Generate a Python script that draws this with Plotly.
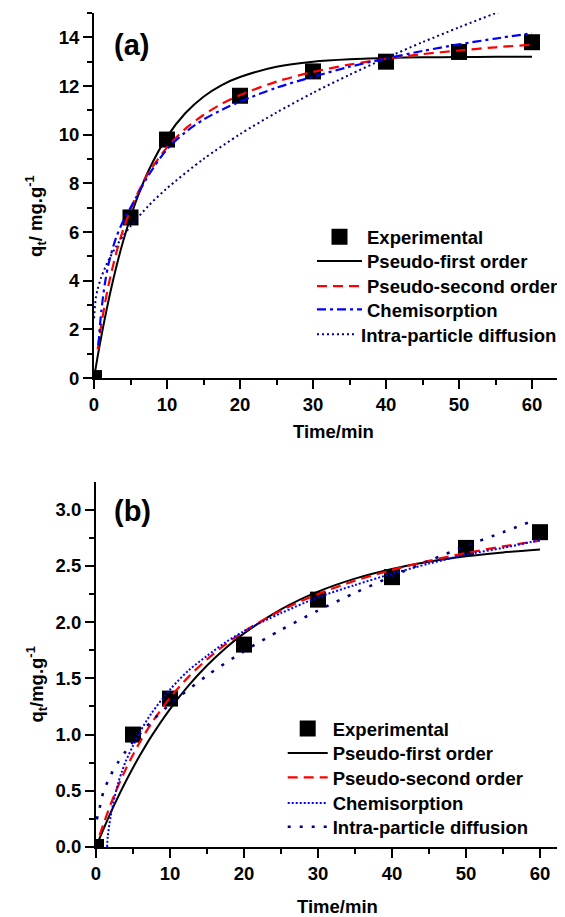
import plotly.graph_objects as go

# ---------------- Panel (a) data ----------------
ta_exp = [0, 5, 10, 20, 30, 40, 50, 60]
qa_exp = [0, 6.6, 9.8, 11.6, 12.6, 13.0, 13.4, 13.8]

ta_pfo = [0, 0.5, 1, 1.5, 2, 3, 4, 5, 6, 7.5, 10, 12.5, 15, 17.5, 20, 25, 30, 35, 40, 45, 50, 55, 60]
qa_pfo = [0, 0.89, 1.71, 2.48, 3.20, 4.50, 5.63, 6.61, 7.47, 8.54, 9.91, 10.88, 11.56, 12.04, 12.37,
          12.79, 13.0, 13.10, 13.15, 13.18, 13.19, 13.2, 13.2]

ta_pso = [0.5, 1, 1.5, 2, 3, 4, 5, 6, 7.5, 10, 12.5, 15, 17.5, 20, 25, 30, 35, 40, 45, 50, 55, 60]
qa_pso = [1.18, 2.19, 3.07, 3.83, 5.09, 6.10, 6.92, 7.61, 8.44, 9.48, 10.24, 10.81, 11.27, 11.63,
          12.18, 12.58, 12.88, 13.12, 13.31, 13.46, 13.59, 13.70]

ta_che = [0.6, 1, 1.5, 2, 3, 4, 5, 6, 7.5, 10, 12.5, 15, 17.5, 20, 25, 30, 35, 40, 45, 50, 55, 60]
qa_che = [1.35, 2.75, 3.9, 4.7, 5.75, 6.45, 7.0, 7.55, 8.35, 9.4, 10.1, 10.62, 11.02, 11.36,
          11.93, 12.38, 12.79, 13.13, 13.44, 13.71, 13.95, 14.17]

ta_ipd = [0, 0.25, 0.5, 1, 2, 3, 4, 5, 7.5, 10, 15, 20, 25, 30, 35, 40, 45, 50, 55, 60]
qa_ipd = [2.46, 3.3, 3.65, 4.15, 4.85, 5.39, 5.84, 6.24, 7.09, 7.80, 9.0, 10.02, 10.91, 11.72,
          12.46, 13.15, 13.80, 14.41, 14.99, 15.55]

# ---------------- Panel (b) data ----------------
tb_exp = [0, 5, 10, 20, 30, 40, 50, 60]
qb_exp = [0, 1.0, 1.32, 1.8, 2.2, 2.4, 2.66, 2.8]

tb_pfo = [0.2, 1, 2, 3, 4, 5, 6, 7.5, 10, 12.5, 15, 17.5, 20, 25, 30, 35, 40, 45, 50, 55, 60]
qb_pfo = [0.032, 0.158, 0.308, 0.448, 0.580, 0.705, 0.822, 0.986, 1.227, 1.435, 1.614, 1.768,
          1.90, 2.113, 2.271, 2.387, 2.473, 2.537, 2.585, 2.620, 2.646]

tb_pso = [0.5, 1, 2, 3, 4, 5, 6, 7.5, 10, 12.5, 15, 17.5, 20, 25, 30, 35, 40, 45, 50, 55, 60]
qb_pso = [0.105, 0.203, 0.383, 0.545, 0.69, 0.821, 0.941, 1.101, 1.327, 1.513, 1.669, 1.802,
          1.917, 2.104, 2.25, 2.368, 2.464, 2.545, 2.614, 2.673, 2.724]

tb_che = [1.5, 1.6, 2, 2.5, 3, 3.5, 4, 5, 6, 7.5, 10, 12.5, 15, 17.5, 20, 25, 30, 35, 40, 45, 50, 55, 60]
qb_che = [0, 0.1, 0.28, 0.44, 0.57, 0.67, 0.76, 0.9, 1.03, 1.19, 1.40, 1.57, 1.70, 1.82, 1.92,
          2.08, 2.22, 2.33, 2.43, 2.52, 2.60, 2.66, 2.73]

tb_ipd = [0.1, 0.5, 1, 2, 3, 4, 5, 7.5, 10, 15, 20, 25, 30, 35, 40, 45, 50, 55, 59]
qb_ipd = [0.245, 0.35, 0.49, 0.64, 0.755, 0.85, 0.936, 1.117, 1.269, 1.525, 1.741, 1.931, 2.103,
          2.26, 2.408, 2.546, 2.677, 2.80, 2.90]

legend_names = ["Experimental", "Pseudo-first order", "Pseudo-second order",
                "Chemisorption", "Intra-particle diffusion"]

# ---------------- layout geometry ----------------
# the page body has an 8px margin, so window pixel coordinates are shifted by OFF
OFF = 8
WIN_W, WIN_H = 565, 917
W, H = WIN_W - OFF, WIN_H - OFF
ML, MR, MT = 94 - OFF, 0, 13 - OFF
BOTTOM_WIN = 847.5
MB = WIN_H - BOTTOM_WIN
PW = W - ML - MR
PH = H - MT - MB


def px(xw):
    return (xw - OFF - ML) / PW


def py(yw):
    return (BOTTOM_WIN - yw) / PH


FONT = dict(family="Arial, Liberation Sans, sans-serif", size=18.5, color="black", weight="bold")

fig = go.Figure()


def add_panel(xa, ya, leg_ids, t_exp, q_exp, curves):
    fig.add_trace(go.Scatter(x=t_exp, y=q_exp, mode="markers", name=legend_names[0],
                             marker=dict(symbol="square", size=16, color="black", line=dict(width=0)),
                             xaxis=xa, yaxis=ya, legend=leg_ids[0]))
    for name, lid, (t, q, color, dash, width) in zip(legend_names[1:], leg_ids[1:], curves):
        fig.add_trace(go.Scatter(x=t, y=q, mode="lines", name=name,
                                 line=dict(color=color, dash=dash, width=width, shape="spline", smoothing=0.8),
                                 xaxis=xa, yaxis=ya, legend=lid))


add_panel("x", "y", ["legend", "legend2", "legend3", "legend4", "legend5"], ta_exp, qa_exp, [
    (ta_pfo, qa_pfo, "black", "solid", 2),
    (ta_pso, qa_pso, "#FF0000", "10px,6px", 2.2),
    (ta_che, qa_che, "#0000FF", "9px,4px,3px,4px", 2.2),
    (ta_ipd, qa_ipd, "#000080", "2px,3px", 2),
])
add_panel("x2", "y2", ["legend6", "legend7", "legend8", "legend9", "legend10"], tb_exp, qb_exp, [
    (tb_pfo, qb_pfo, "black", "solid", 2),
    (tb_pso, qb_pso, "#FF0000", "10px,6px", 2.2),
    (tb_che, qb_che, "#0000FF", "2px,2px", 2),
    (tb_ipd, qb_ipd, "#000080", "3px,9px", 2.6),
])

# legend rows: (text-start x, row-centre y, item width) in window pixels
rows_a = [(366, 237.3, 45), (366, 261.7, 45), (366, 286.7, 45), (366, 310, 45), (360, 335, 39)]
rows_b = [(331.7, 729.3, 40), (331.7, 754, 40), (331.7, 778.3, 40), (331.7, 804, 40), (331.7, 827.7, 40)]
leg_layout = {}
for i, (tx, yc, iw) in enumerate(rows_a + rows_b):
    key = "legend" if i == 0 else f"legend{i + 1}"
    text_off = iw + 9
    leg_layout[key] = dict(x=px(tx - text_off), y=py(yc - 19), xanchor="left", yanchor="top",
                           bgcolor="rgba(0,0,0,0)", borderwidth=0, font=FONT, itemwidth=iw,
                           tracegroupgap=0)

common_main = dict(showline=True, linewidth=2, linecolor="black", showgrid=False, zeroline=False,
                   ticks="outside", ticklen=9, tickwidth=2, tickcolor="black", tickfont=FONT,
                   automargin=False)
common_over = dict(showline=False, showgrid=False, zeroline=False, showticklabels=False,
                   ticks="inside", tickwidth=2, tickcolor="black", tick0=0, automargin=False)

fig.update_layout(
    width=W, height=H,
    margin=dict(l=ML, r=MR, t=MT, b=MB, pad=0, autoexpand=False),
    paper_bgcolor="white", plot_bgcolor="white",
    font=FONT,
    xaxis=dict(domain=[0, 1], anchor="y", range=[0, 64.52], tick0=0, dtick=10,
               minor=dict(dtick=5, ticklen=5, tickwidth=2, ticks="outside", tickcolor="black"),
               **common_main),
    yaxis=dict(domain=[py(378.3), 1], anchor="x", range=[0, 15], tick0=0, dtick=2,
               minor=dict(dtick=1, ticklen=5, tickwidth=2, ticks="outside", tickcolor="black"),
               **common_main),
    xaxis2=dict(domain=[px(96), 1], anchor="y2", range=[0, 63.38], tick0=0, dtick=10,
                minor=dict(dtick=5, ticklen=5, tickwidth=2, ticks="outside", tickcolor="black"),
                **common_main),
    yaxis2=dict(domain=[0, py(482.3)], anchor="x2", range=[0, 3.246], tick0=0, dtick=0.5,
                tickformat=".1f",
                minor=dict(dtick=0.25, ticklen=5, tickwidth=2, ticks="outside", tickcolor="black"),
                **common_main),
    xaxis3=dict(overlaying="x", anchor="y", side="top", range=[0, 471 / 47.3], dtick=2, ticklen=9,
                minor=dict(dtick=1, ticklen=5, tickwidth=2, ticks="inside", tickcolor="black"),
                **{**common_over, "showline": True, "linewidth": 2, "linecolor": "black"}),
    yaxis3=dict(overlaying="y", anchor="x", side="right", range=[0, 10], dtick=2, ticklen=6,
                minor=dict(dtick=1, ticklen=2, tickwidth=2, ticks="inside", tickcolor="black"),
                **common_over),
    xaxis4=dict(overlaying="x2", anchor="y2", side="top", range=[0, 469 / 48.2], dtick=2, ticklen=9,
                minor=dict(dtick=1, ticklen=5, tickwidth=2, ticks="inside", tickcolor="black"),
                **{**common_over, "showline": True, "linewidth": 2, "linecolor": "black"}),
    yaxis4=dict(overlaying="y2", anchor="x2", side="right", range=[0, 10], dtick=2, ticklen=6,
                minor=dict(dtick=1, ticklen=2, tickwidth=2, ticks="inside", tickcolor="black"),
                **common_over),
    showlegend=True,
    **leg_layout,
)

annots = [
    dict(text="(a)", x=px(131.5), y=py(45), font=dict(size=29)),
    dict(text="(b)", x=px(132), y=py(511), font=dict(size=29)),
    dict(text="q<sub>t</sub>/ mg.g<sup>-1</sup>", x=px(36), y=py(216), textangle=-90),
    dict(text="q<sub>t</sub>/mg.g<sup>-1</sup>", x=px(37), y=py(685), textangle=-90),
    dict(text="Time/min", x=px(333), y=py(432)),
    dict(text="Time/min", x=px(337), y=py(907.5)),
]
for a in annots:
    f = dict(FONT)
    f.update(a.pop("font", {}))
    fig.add_annotation(xref="paper", yref="paper", xanchor="center", yanchor="middle",
                       showarrow=False, font=f, **a)

fig.write_html("out.html")
